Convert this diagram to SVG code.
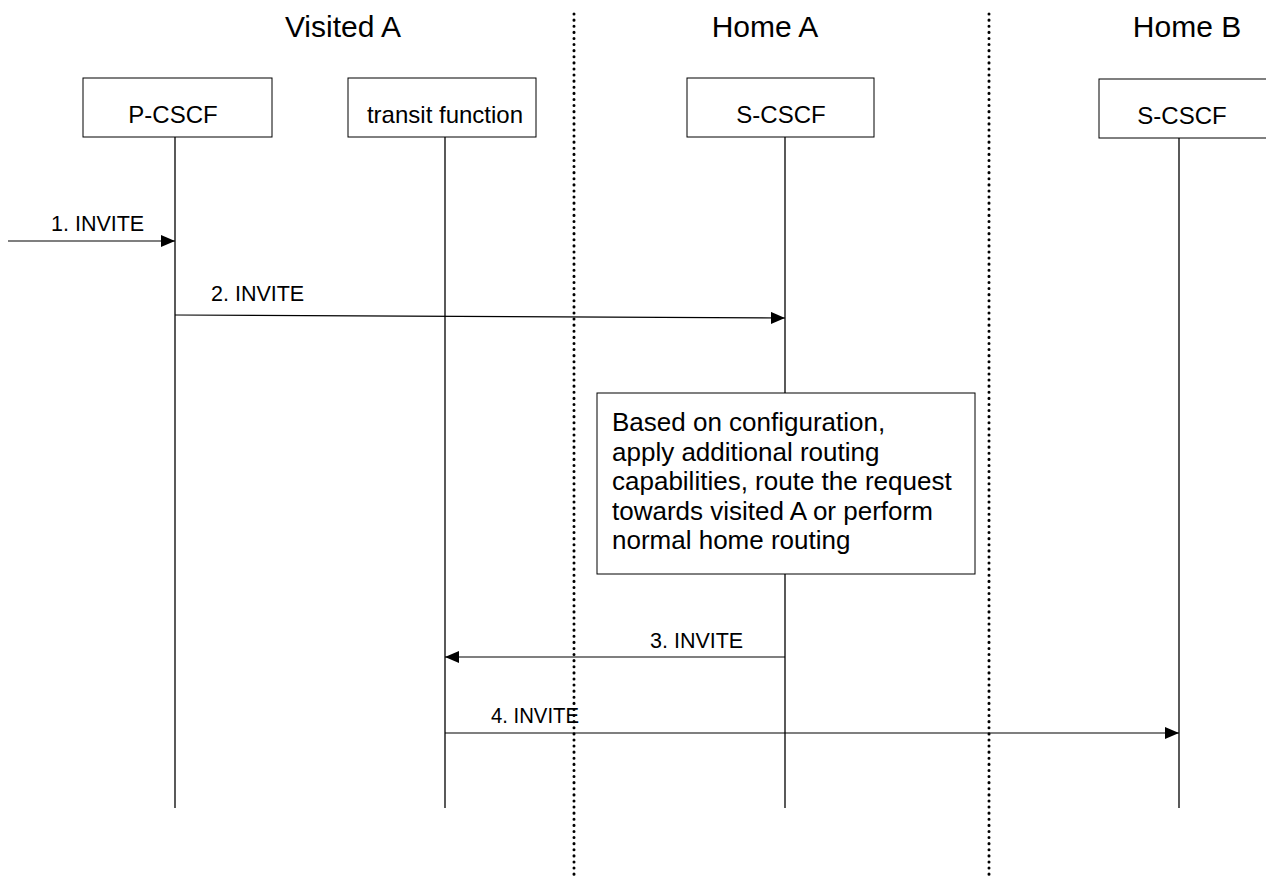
<svg xmlns="http://www.w3.org/2000/svg" width="1266" height="879" viewBox="0 0 1266 879">
<style>
text{font-family:"Liberation Sans",Arial,sans-serif;fill:#000}
.h{font-size:30px;text-anchor:middle}
.n{font-size:24px;text-anchor:middle}
.m{font-size:21.5px}
.t{font-size:26px}
.box{fill:#fff;stroke:#000;stroke-width:1}
.life{stroke:#000;stroke-width:1.3}
.msg{stroke:#000;stroke-width:1.2;fill:none}
.sep{stroke:#000;stroke-width:3;stroke-dasharray:0.1 6;stroke-linecap:round}
</style>
<defs>
<marker id="ahb" viewBox="0 0 14 12" refX="14" refY="6" markerWidth="14" markerHeight="12" markerUnits="userSpaceOnUse" orient="auto">
<path d="M0,0 L14,6 L0,12 z" fill="#000"/>
</marker>
</defs>
<rect width="1266" height="879" fill="#fff"/>
<g id="domains">
<text class="h" x="343" y="37">Visited A</text>
<text class="h" x="765" y="37">Home A</text>
<text class="h" x="1187" y="37">Home B</text>
<line class="sep" x1="574" y1="14" x2="574" y2="879"/>
<line class="sep" x1="989" y1="14" x2="989" y2="879"/>
</g>
<g id="pcscf">
<line class="life" x1="175" y1="137" x2="175" y2="808"/>
<rect class="box" x="83" y="78" width="189" height="59"/>
<text class="n" x="173" y="123">P-CSCF</text>
</g>
<g id="transit">
<line class="life" x1="445" y1="137" x2="445" y2="808"/>
<rect class="box" x="348" y="78" width="188" height="59"/>
<text class="n" x="445" y="123">transit function</text>
</g>
<g id="scscfA">
<line class="life" x1="785" y1="137" x2="785" y2="808"/>
<rect class="box" x="687" y="78" width="187" height="59"/>
<text class="n" x="781" y="123">S-CSCF</text>
</g>
<g id="scscfB">
<line class="life" x1="1179" y1="138" x2="1179" y2="808"/>
<rect class="box" x="1099" y="79" width="180" height="59"/>
<text class="n" x="1182" y="124">S-CSCF</text>
</g>
<g id="note">
<rect class="box" x="597" y="393" width="378" height="181"/>
<text class="t" x="612" y="431">Based on configuration,</text>
<text class="t" x="612" y="460.5">apply additional routing</text>
<text class="t" x="612" y="490">capabilities, route the request</text>
<text class="t" x="612" y="519.5">towards visited A or perform</text>
<text class="t" x="612" y="549">normal home routing</text>
</g>
<g id="connectors">
<line class="msg" x1="8" y1="241" x2="175" y2="241" marker-end="url(#ahb)"/>
<text class="m" x="51" y="231">1. INVITE</text>
<line class="msg" x1="175" y1="315" x2="785" y2="318" marker-end="url(#ahb)"/>
<text class="m" x="211" y="301">2. INVITE</text>
<line class="msg" x1="785" y1="657" x2="445" y2="657" marker-end="url(#ahb)"/>
<text class="m" x="650" y="648">3. INVITE</text>
<line class="msg" x1="445" y1="733" x2="1179" y2="733" marker-end="url(#ahb)"/>
<text class="m" x="491" y="723" textLength="88" lengthAdjust="spacingAndGlyphs">4. INVITE</text>
</g>
</svg>
